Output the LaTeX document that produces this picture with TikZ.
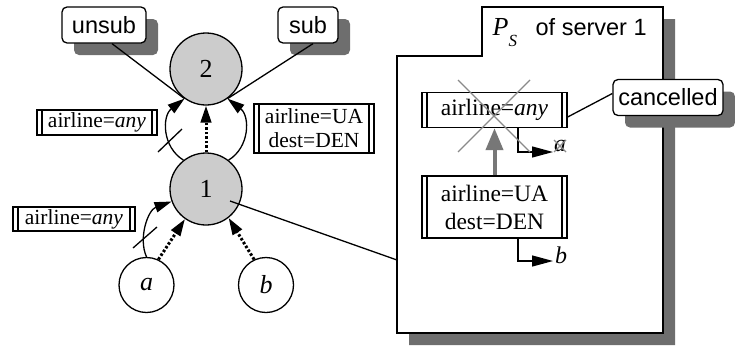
\documentclass[tikz,border=0pt]{standalone}
\usepackage{fontspec}
\setmainfont{Liberation Serif}
\setsansfont{Liberation Sans}
\usetikzlibrary{arrows.meta,shadows,calc}

\definecolor{nodegray}{HTML}{CCCCCC}
\definecolor{shadowgray}{HTML}{6E6E6E}
\definecolor{crossgray}{HTML}{8A8A8A}
\definecolor{fwdgray}{HTML}{777777}

\tikzset{
  state/.style={circle, draw, inner sep=0pt, minimum size=72pt,
    font=\fontsize{26}{28}\selectfont},
  broker/.style={state, fill=nodegray},
  client/.style={state, minimum size=55pt},
  callout/.style={draw, fill=white, rounded corners=5pt, inner sep=0pt,
    minimum height=36pt, font=\sffamily\fontsize{23.5}{26}\selectfont,
    drop shadow={shadow xshift=12pt, shadow yshift=-12pt, fill=shadowgray, opacity=1}},
  filt/.style={draw, fill=white, inner sep=0pt, align=center,
    path picture={
      \draw ([xshift=5pt]path picture bounding box.north west) -- ([xshift=5pt]path picture bounding box.south west);
      \draw ([xshift=-5pt]path picture bounding box.north east) -- ([xshift=-5pt]path picture bounding box.south east);}},
  smallfilt/.style={filt, font=\fontsize{21.5}{24}\selectfont},
  bigfilt/.style={filt, font=\fontsize{23.5}{28}\selectfont},
  msg/.style={-{Triangle[length=17pt,width=10.5pt]}},
  sendmsg/.style={msg, line width=3pt, dash pattern=on 2.5pt off 2pt},
  outarrow/.style={-{Triangle[length=21pt,width=11pt]}},
  fwd/.style={fwdgray, line width=4pt, -{Triangle[length=22pt,width=17pt]}},
  cross/.style={crossgray, line width=1.1pt},
}

\begin{document}
\begin{tikzpicture}[x=1pt, y=-1pt, line width=1.3pt]
\useasboundingbox (0,0) rectangle (735,346);

% subscription table of server 1
\fill[shadowgray, shift={(12,12)}] (482,7) -- (663,7) -- (663,333) -- (397,333) -- (397,56) -- (482,56) -- cycle;
\draw[fill=white] (482,7) -- (663,7) -- (663,333) -- (397,333) -- (397,56) -- (482,56) -- cycle;
\coordinate (pslink) at (397,260);
\node[anchor=base west, inner sep=0pt, font=\fontsize{26}{28}\selectfont\itshape] (pstitle) at (492,35)
  {P\raisebox{-11pt}{\fontsize{17}{17}\selectfont S}};
\node[anchor=base west, inner sep=0pt, font=\sffamily\fontsize{23.5}{26}\selectfont] (psserver) at (535,35) {of server 1};

\node[bigfilt, minimum width=145pt, minimum height=35pt] (f1) at (494.5,110) {airline=\textit{any}};
\node[bigfilt, minimum width=145pt, minimum height=62pt] (f2) at (494.5,207) {airline=UA\\dest=DEN};
\draw[fwd] (f2.north) -- (f1.south);

\coordinate (aend) at (553,152);
\node[font=\fontsize{24}{26}\selectfont\itshape, inner sep=0pt] (alab) at (560,146) {a};
\draw[outarrow] ([xshift=23.5pt]f1.south) |- (aend);
\draw[cross] (554,140) -- (566,152) (566,140) -- (554,152);

\coordinate (bend) at (553,261);
\node[font=\fontsize{24}{26}\selectfont\itshape, inner sep=0pt] (blab) at (561,255) {b};
\draw[outarrow] ([xshift=23.5pt]f2.south) |- (bend);

% cancelled entry
\draw[cross] (458,80) -- (530,152) (530,80) -- (458,152);

\node[callout, minimum width=110pt] (cancelled) at (668,97.5) {cancelled};
\draw ([yshift=4pt]cancelled.west) -- ([yshift=-7pt]f1.east);

% brokers and clients
\node[broker] (n2) at (206,69) {2};
\node[broker] (n1) at (206,189) {1};
\node[client] (a) at (146.5,285) {\itshape a};
\node[client] (b) at (266,285) {\itshape b};

\coordinate (link) at (230,201);
\draw (link) -- (pslink);

% subscriptions forwarded from 1 to 2
\draw[msg] (n1.128) .. controls (162,147) and (162,116) .. (n2.234);
\draw[msg] (n1.52) .. controls (250,147) and (250,116) .. (n2.306);
\draw[sendmsg] (n1.north) -- (n2.south);
\draw (158,152) -- (182,129);

% subscriptions from clients to 1
\draw[msg] (a.north) .. controls (138,238) and (148,210) .. (n1.200);
\draw (133,248) -- (157,227);
\draw[sendmsg] (a.65) -- (n1.235);
\draw[sendmsg] (b.115) -- (n1.308);

% filter labels
\node[smallfilt, minimum width=120pt, minimum height=25pt] (lab1) at (97,122.5) {airline=\textit{any}};
\node[smallfilt, minimum width=120pt, minimum height=49pt] (lab2) at (314,128.5) {airline=UA\\dest=DEN};
\node[smallfilt, minimum width=122pt, minimum height=24pt] (lab3) at (74,219) {airline=\textit{any}};

% callouts
\node[callout, minimum width=84pt] (unsub) at (104,25) {unsub};
\node[callout, minimum width=60pt] (sub) at (308,25) {sub};
\draw ([xshift=8pt]unsub.south) -- (n2.234);
\draw ([xshift=5pt]sub.south) -- (n2.306);
\end{tikzpicture}
\end{document}
